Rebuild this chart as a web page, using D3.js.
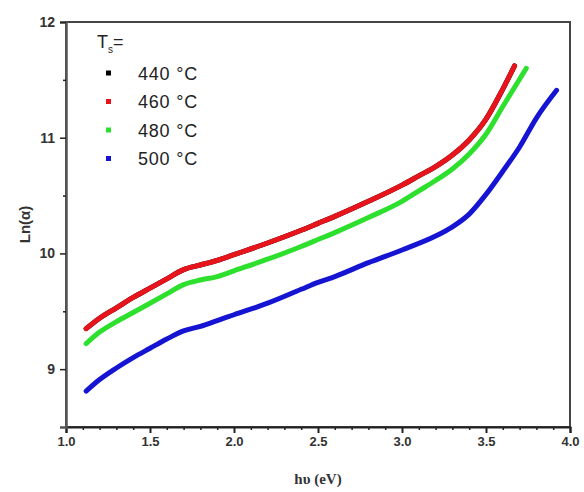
<!DOCTYPE html>
<html><head><meta charset="utf-8">
<script src="https://cdn.jsdelivr.net/npm/d3@7"></script>
<style>body{margin:0;background:#fff}svg{display:block}</style>
</head><body>
<svg id="c" width="584" height="492"></svg>
<script>
const seriesNames = ["440 \u00B0C", "460 \u00B0C", "480 \u00B0C", "500 \u00B0C"];
const seriesColors = ["#000000", "#e8141b", "#2ee02e", "#1414d2"];
const xTicks = [1.0, 1.5, 2.0, 2.5, 3.0, 3.5, 4.0];
const yTicks = [9, 10, 11, 12];

const x440 = [1.12,1.2,1.3,1.4,1.5,1.6,1.7,1.8,1.9,2.0,2.2,2.4,2.5,2.6,2.8,3.0,3.1,3.2,3.3,3.4,3.5,3.6,3.67];
const y440 = [9.35,9.44,9.53,9.62,9.70,9.78,9.86,9.90,9.94,9.99,10.09,10.20,10.26,10.32,10.45,10.59,10.67,10.75,10.85,10.98,11.16,11.42,11.62];
const x460 = [1.12,1.2,1.3,1.4,1.5,1.6,1.7,1.8,1.9,2.0,2.2,2.4,2.5,2.6,2.8,3.0,3.1,3.2,3.3,3.4,3.5,3.6,3.67];
const y460 = [9.35,9.44,9.53,9.62,9.70,9.78,9.86,9.90,9.94,9.99,10.09,10.20,10.26,10.32,10.45,10.59,10.67,10.75,10.85,10.98,11.16,11.42,11.62];
const x480 = [1.12,1.2,1.3,1.4,1.5,1.6,1.7,1.8,1.9,2.0,2.2,2.4,2.5,2.6,2.8,3.0,3.1,3.2,3.3,3.4,3.5,3.6,3.74];
const y480 = [9.22,9.32,9.41,9.49,9.57,9.65,9.73,9.77,9.80,9.85,9.95,10.06,10.12,10.18,10.31,10.45,10.54,10.63,10.73,10.86,11.03,11.27,11.60];
const x500 = [1.12,1.2,1.3,1.4,1.5,1.6,1.7,1.8,1.9,2.0,2.2,2.4,2.5,2.6,2.8,3.0,3.2,3.3,3.4,3.5,3.6,3.7,3.8,3.92];
const y500 = [8.81,8.91,9.01,9.10,9.18,9.26,9.33,9.37,9.42,9.47,9.57,9.69,9.75,9.80,9.92,10.03,10.15,10.23,10.34,10.51,10.71,10.92,11.17,11.41];

const seriesX = [x440, x460, x480, x500];
const seriesY = [y440, y460, y480, y500];

const svg = d3.select("#c");
const L = 66, R = 570, T = 22, B = 427;
const x = d3.scaleLinear().domain([1.0, 4.0]).range([L, R]);
const y = d3.scaleLinear().domain([8.5, 12]).range([B, T]);

// frame
svg.append("rect").attr("x", L).attr("y", T).attr("width", R - L).attr("height", B - T)
  .attr("fill", "none").attr("stroke", "#444").attr("stroke-width", 2);

// curves
const line = d3.line().x(d => x(d[0])).y(d => y(d[1])).curve(d3.curveMonotoneX);
seriesX.forEach((xs, i) => {
  const pts = xs.map((v, j) => [v, seriesY[i][j]]);
  svg.append("path").attr("d", line(pts)).attr("fill", "none")
    .attr("stroke", seriesColors[i]).attr("stroke-width", 5).attr("stroke-linecap", "round");
});

// x axis
const xAxis = d3.axisBottom(x).tickValues(xTicks).tickFormat(d3.format(".1f")).tickSize(6).tickPadding(4);
const gx = svg.append("g").attr("transform", `translate(0,${B})`).call(xAxis);
gx.select(".domain").attr("stroke", "#222").attr("stroke-width", 2);
gx.selectAll(".tick line").attr("stroke", "#222").attr("stroke-width", 2);
gx.selectAll("text").attr("font-family", "Liberation Sans, Arial, sans-serif")
  .attr("font-weight", "bold").attr("font-size", 13).attr("fill", "#333");
const xMinor = d3.range(10, 41).map(v => v / 10).filter(v => Math.abs(v * 2 - Math.round(v * 2)) > 1e-6);
svg.append("g").attr("transform", `translate(0,${B})`)
  .call(d3.axisBottom(x).tickValues(xMinor).tickSize(3).tickFormat(""))
  .call(g => g.select(".domain").remove())
  .selectAll(".tick line").attr("stroke", "#222").attr("stroke-width", 1.5);

// y axis
const yAxis = d3.axisLeft(y).tickValues(yTicks).tickFormat(d3.format("d")).tickSize(6).tickPadding(5);
const gy = svg.append("g").attr("transform", `translate(${L},0)`).call(yAxis);
gy.select(".domain").attr("stroke", "#555").attr("stroke-width", 2.5);
gy.selectAll(".tick line").attr("stroke", "#222").attr("stroke-width", 1.5);
gy.selectAll("text").attr("font-family", "Liberation Sans, Arial, sans-serif")
  .attr("font-weight", "bold").attr("font-size", 14).attr("fill", "#333");
svg.append("g").attr("transform", `translate(${L},0)`)
  .call(d3.axisLeft(y).tickValues([9.5, 10.5, 11.5]).tickSize(3).tickFormat(""))
  .call(g => g.select(".domain").remove())
  .selectAll(".tick line").attr("stroke", "#222").attr("stroke-width", 1.5);

// axis titles
svg.append("text").attr("x", (L + R) / 2).attr("y", 484).attr("text-anchor", "middle")
  .attr("font-family", "Liberation Serif, Times New Roman, serif").attr("font-weight", "bold")
  .attr("font-size", 15).attr("fill", "#333").text("h\u03C5 (eV)");
svg.append("text").attr("transform", `translate(30,${(T + B) / 2}) rotate(-90)`)
  .attr("text-anchor", "middle").attr("font-family", "Liberation Sans, Arial, sans-serif")
  .attr("font-weight", "bold").attr("font-size", 15).attr("fill", "#333").text("Ln(\u03B1)");

// legend
const lg = svg.append("g");
const tT = lg.append("text").attr("x", 97).attr("y", 48)
  .attr("font-family", "Liberation Sans, Arial, sans-serif").attr("font-size", 18).attr("fill", "#222");
tT.append("tspan").text("T");
tT.append("tspan").attr("font-size", 10).attr("dy", 5).text("s");
tT.append("tspan").attr("dy", -5).text("=");
seriesNames.forEach((n, i) => {
  const cy = 73 + i * 28.5;
  lg.append("rect").attr("x", 106).attr("y", cy - 2.5).attr("width", 5).attr("height", 5).attr("fill", seriesColors[i]);
  lg.append("text").attr("x", 138).attr("y", cy + 6.5).attr("letter-spacing", 0.8)
    .attr("font-family", "Liberation Sans, Arial, sans-serif").attr("font-size", 18).attr("fill", "#222").text(n);
});
</script>
</body></html>
